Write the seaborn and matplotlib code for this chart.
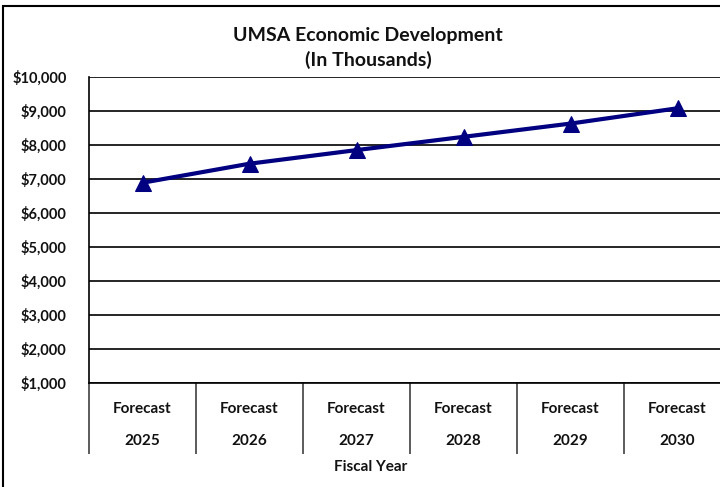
import numpy as np
import pandas as pd
import seaborn as sns
import matplotlib.pyplot as plt
from matplotlib.patches import Rectangle
from matplotlib.ticker import FuncFormatter

# values (in thousands of dollars)
years = ["2025", "2026", "2027", "2028", "2029", "2030"]
labels = [f"Forecast\n{y}" for y in years]
revenue = [6890, 7450, 7850, 8240, 8630, 9080]
y_ticks = list(range(1000, 10001, 1000))

df = pd.DataFrame({"year": labels, "value": revenue})

sns.set_theme(style="white")
plt.rcParams['font.family'] = ['Lato', 'DejaVu Sans']
plt.rcParams['font.weight'] = 'bold'

fig = plt.figure(figsize=(7.2, 4.87), dpi=100)
ax = fig.add_axes([89 / 720, 104 / 487, 642 / 720, 306 / 487])

sns.lineplot(data=df, x="year", y="value", ax=ax, color="#000080",
             linewidth=3, marker="^", markersize=11, markeredgecolor="#000080",
             sort=False)

ax.set_ylim(1000, 10000)
ax.set_xlim(-0.5, len(labels) - 0.5)
ax.set_yticks(y_ticks)
ax.yaxis.set_major_formatter(FuncFormatter(lambda v, _: f"${v:,.0f}"))
ax.yaxis.grid(True, color="black", linewidth=1.2)
ax.set_axisbelow(True)

ax.set_xticks(range(len(labels)))
ax.set_xticklabels(labels, linespacing=2.65)
ax.set_xticks(np.arange(-0.5, len(labels)), minor=True)
ax.tick_params(axis="x", which="both", bottom=True)
ax.tick_params(axis="x", which="major", length=0, pad=13.5, labelsize=11, labelcolor="#111111")
ax.tick_params(axis="x", which="minor", length=51, width=1.2, color="#404040", direction="out")
ax.tick_params(axis="y", length=0, pad=16, labelsize=10.5, labelcolor="#111111")
for lab in ax.get_yticklabels() + ax.get_xticklabels():
    lab.set_fontweight("bold")

for s in ["top", "right"]:
    ax.spines[s].set_visible(False)
for s in ["left", "bottom"]:
    ax.spines[s].set_color("black")
    ax.spines[s].set_linewidth(1.2)
ax.set_xlabel("")
ax.set_ylabel("")

fig.text(368 / 720, 1 - 48 / 487, "UMSA Economic Development\n(In Thousands)",
         ha="center", va="center", fontsize=14, fontweight="bold",
         color="#111111", linespacing=1.4)
fig.text(371 / 720, 1 - 467 / 487, "Fiscal Year", ha="center", va="center",
         fontsize=11, fontweight="bold", color="#111111")

# chart area border (right and bottom edges fall outside the image)
fig.patches.append(Rectangle((2.5 / 720, -0.1), 1.5, 1 - 6 / 487 + 0.1,
                             transform=fig.transFigure, fill=False,
                             edgecolor="black", linewidth=1.5))

fig.savefig("out.png", dpi=100)
